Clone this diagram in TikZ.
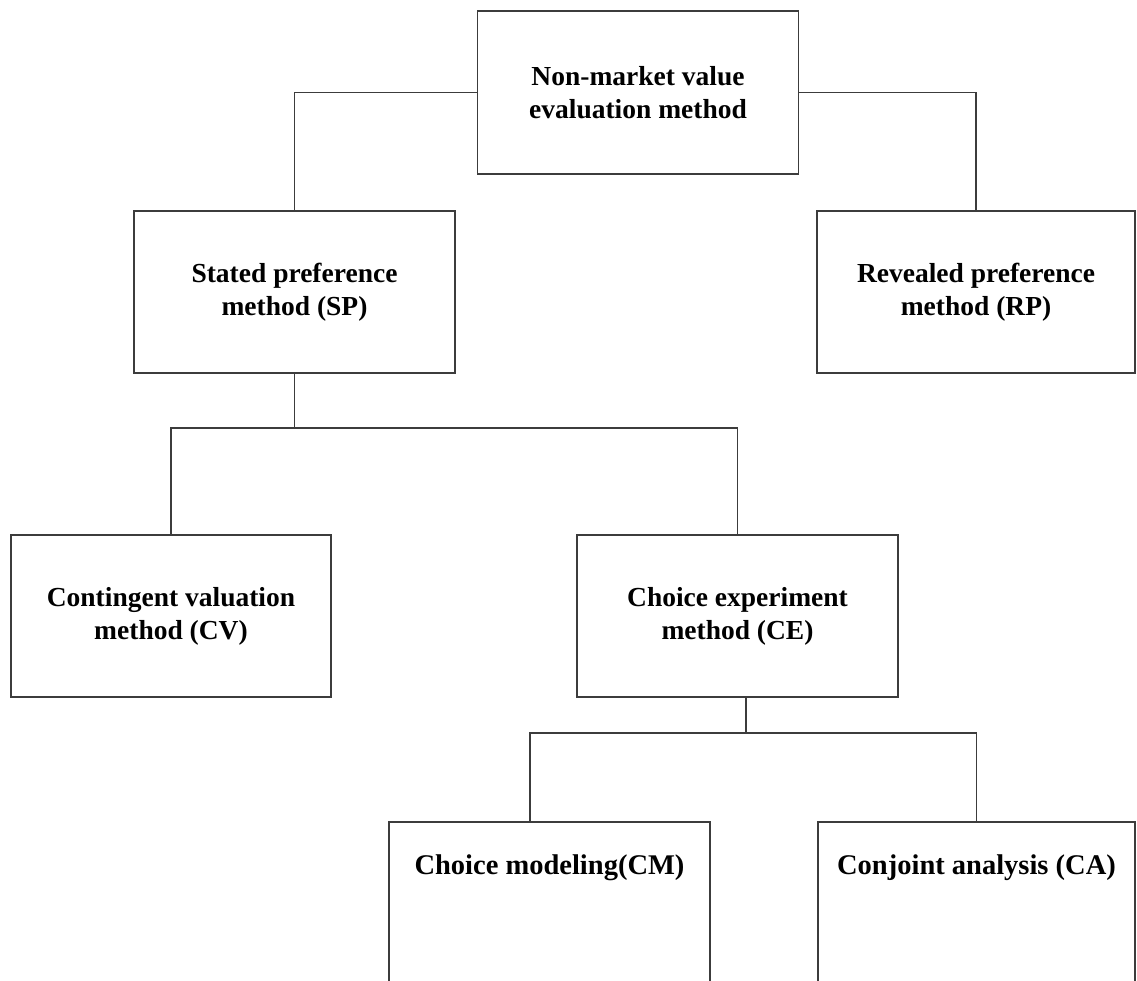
\documentclass[tikz,border=0pt]{standalone}
\usepackage{fontspec}
\setmainfont{Liberation Serif}
\usetikzlibrary{calc}
\definecolor{edge}{HTML}{3C3C3C}
\begin{document}
\begin{tikzpicture}[x=1pt,y=-1pt,
  box/.style={draw=edge, line width=1.6pt, fill=white, inner sep=0pt,
    minimum width=321pt, minimum height=162pt, align=center,
    font=\fontsize{27.5}{33}\selectfont\bfseries},
  label text/.style={inner sep=0pt, font=\fontsize{28.5}{34}\selectfont\bfseries},
  link/.style={draw=edge, line width=1.6pt}]
  \useasboundingbox (0,0) rectangle (1137,980);

  % boxes of the method hierarchy
  \node[box, minimum height=163pt] (top) at (638,92.5) {Non-market value\\evaluation method};
  \node[box] (sp) at (294.5,292) {Stated preference\\method (SP)};
  \node[box, minimum width=318pt] (rp) at (976,292) {Revealed preference\\method (RP)};
  \node[box, minimum width=320pt] (cv) at (171,616) {Contingent valuation\\method (CV)};
  \node[box] (ce) at (737.5,616) {Choice experiment\\method (CE)};
  \node[box, minimum height=163pt] (cm) at (549.5,903.5) {};
  \node[box, minimum width=317pt, minimum height=163pt] (ca) at (976.5,903.5) {};
  \node[label text] (cmtext) at (549.5,868) {Choice modeling(CM)};
  \node[label text] (catext) at (976.5,868) {Conjoint analysis (CA)};

  % first level
  \draw[link] (top.west) -| (sp.north);
  \draw[link] (top.east) -| (rp.north);

  % second level
  \draw[link] (sp.south) -- ++(0,54) coordinate (spjoin);
  \draw[link] (cv.north) |- (spjoin) -| (ce.north);

  % third level
  \coordinate (ceout) at ($(ce.south west)!0.526!(ce.south east)$);
  \coordinate (cmin) at ($(cm.north west)!0.44!(cm.north east)$);
  \draw[link] (ceout) -- ++(0,35) coordinate (cejoin);
  \draw[link] (cmin) |- (cejoin) -| (ca.north);
\end{tikzpicture}
\end{document}
